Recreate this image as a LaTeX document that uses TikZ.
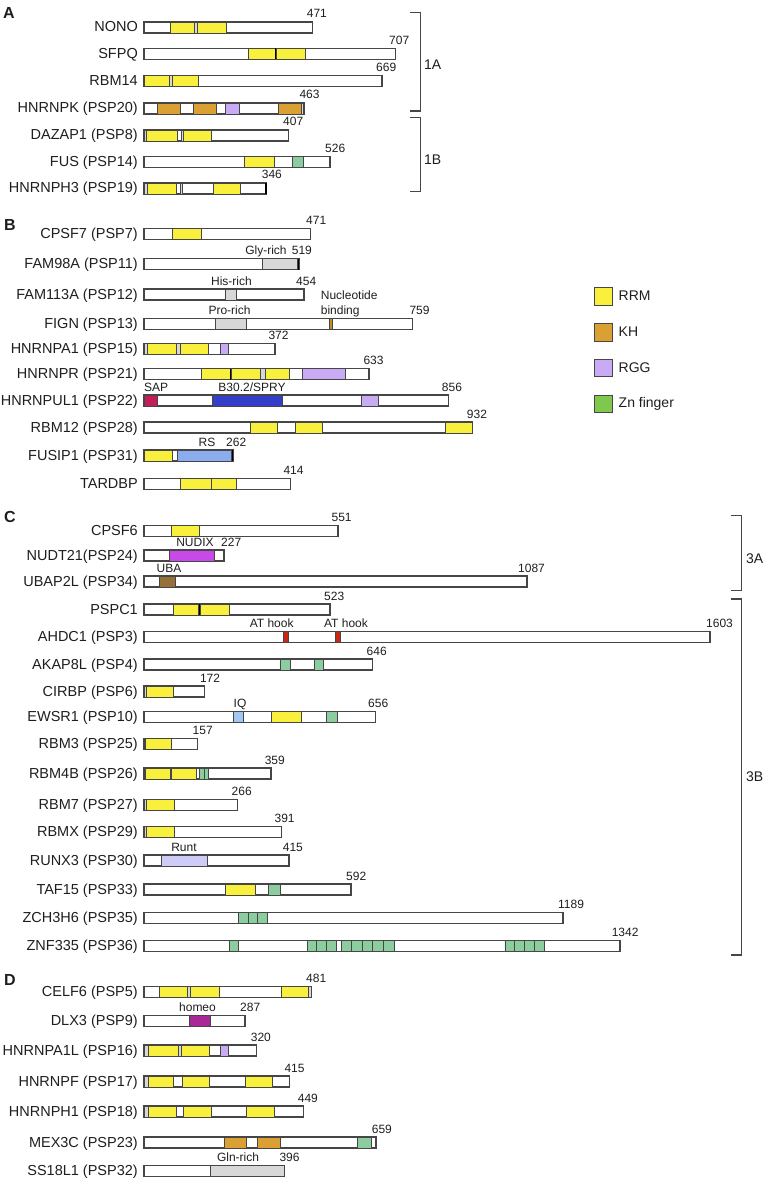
\documentclass[tikz,border=0pt]{standalone}
\usepackage{fontspec}
\setmainfont{Liberation Sans}
\usepackage{xcolor}
\usepackage{tikz}

\definecolor{outln}{RGB}{70,70,70}
\definecolor{txtc}{RGB}{30,30,30}
\definecolor{rrmc}{RGB}{248,240,60}
\definecolor{khc}{RGB}{218,160,52}
\definecolor{rggc}{RGB}{200,170,245}
\definecolor{znc}{RGB}{140,205,160}
\definecolor{znleg}{RGB}{128,200,76}
\definecolor{richc}{RGB}{216,216,216}
\definecolor{sapc}{RGB}{196,30,90}
\definecolor{spryc}{RGB}{52,62,200}
\definecolor{rsc}{RGB}{140,172,240}
\definecolor{nudixc}{RGB}{200,72,232}
\definecolor{ubac}{RGB}{150,112,56}
\definecolor{hookc}{RGB}{200,40,20}
\definecolor{iqc}{RGB}{160,200,242}
\definecolor{runtc}{RGB}{204,204,246}
\definecolor{homeoc}{RGB}{168,40,150}
\definecolor{nucc}{RGB}{200,140,30}

\begin{document}
\begin{tikzpicture}[x=1pt,y=-1pt,
  every node/.style={text=txtc,inner sep=0pt},
  protname/.style={font=\fontsize{14.5}{16}\selectfont,anchor=base east},
  aalen/.style={font=\fontsize{12}{14}\selectfont,anchor=base west},
  domlab/.style={font=\fontsize{12}{14}\selectfont,anchor=base},
  panel/.style={font=\fontsize{16}{18}\selectfont\bfseries},
  grp/.style={font=\fontsize{14}{16}\selectfont,anchor=west},
  protbar/.style={draw=outln,line width=1.2pt,fill=white},
  dom/.style={draw=outln,line width=0.8pt},
  rrm/.style={dom,fill=rrmc},
  kh/.style={dom,fill=khc},
  rgg/.style={dom,fill=rggc},
  znf/.style={dom,fill=znc},
  rich/.style={dom,fill=richc},
  sep/.style={dom,fill=richc},
  blk/.style={fill=black},
  sap/.style={dom,fill=sapc},
  spry/.style={dom,fill=spryc},
  rs/.style={dom,fill=rsc},
  nudix/.style={dom,fill=nudixc},
  uba/.style={dom,fill=ubac},
  hook/.style={dom,fill=hookc},
  iq/.style={dom,fill=iqc},
  runt/.style={dom,fill=runtc},
  homeo/.style={dom,fill=homeoc},
  nuc/.style={dom,fill=nucc},
  brk/.style={draw=outln,line width=1.2pt}]
\useasboundingbox (0,0) rectangle (764,1182);

% ---------------- A
\node[panel] (pa) at (9,13) {A};

\node[protname] (nono) at (138,32) {NONO};
\draw[protbar] (144,22) rectangle (312.7,33);
\draw[rrm] (170.3,22) rectangle (194.3,33);
\draw[sep] (194.3,22) rectangle (197.7,33);
\draw[rrm] (197.7,22) rectangle (226.7,33);
\node[aalen] (nono-n) at (306.7,18) {471};

\node[protname] (sfpq) at (138,58.5) {SFPQ};
\draw[protbar] (144,48.5) rectangle (395.7,59.5);
\draw[rrm] (248.3,48.5) rectangle (275,59.5);
\fill[blk] (275,48.5) rectangle (276.7,59.5);
\draw[rrm] (276.7,48.5) rectangle (305,59.5);
\node[aalen] (sfpq-n) at (389,44.5) {707};

\node[protname] (rbm14) at (138,85.5) {RBM14};
\draw[protbar] (144,75.5) rectangle (382,86.5);
\draw[rrm] (144,75.5) rectangle (169,86.5);
\draw[sep] (169,75.5) rectangle (172.3,86.5);
\draw[rrm] (172.3,75.5) rectangle (198.3,86.5);
\node[aalen] (rbm14-n) at (376,71.5) {669};

\node[protname] (hnrnpk) at (138,113) {HNRNPK (PSP20)};
\draw[protbar] (144,103) rectangle (304.3,114);
\draw[kh] (157.7,103) rectangle (180.7,114);
\draw[kh] (193.3,103) rectangle (216.7,114);
\draw[rgg] (225.7,103) rectangle (239.3,114);
\draw[kh] (278.3,103) rectangle (301,114);
\draw[sep] (301,103) rectangle (303,114);
\node[aalen] (hnrnpk-n) at (299.3,99) {463};

\node[protname] (dazap1) at (138,140) {DAZAP1 (PSP8)};
\draw[protbar] (144,130) rectangle (288.7,141);
\draw[sep] (144,130) rectangle (146.7,141);
\draw[rrm] (146.7,130) rectangle (177.7,141);
\draw[sep] (181,130) rectangle (183.3,141);
\draw[rrm] (183.3,130) rectangle (211,141);
\node[aalen] (dazap1-n) at (283,126) {407};

\node[protname] (fus) at (138,166.5) {FUS (PSP14)};
\draw[protbar] (144,156.5) rectangle (330,167.5);
\draw[rrm] (244.3,156.5) rectangle (274,167.5);
\draw[znf] (292,156.5) rectangle (303.3,167.5);
\node[aalen] (fus-n) at (325,152.5) {526};

\node[protname] (hnrnph3) at (138,193) {HNRNPH3 (PSP19)};
\draw[protbar] (144,183) rectangle (266.7,194);
\draw[sep] (144,183) rectangle (147,194);
\draw[rrm] (147,183) rectangle (176.7,194);
\draw[sep] (180,183) rectangle (182.5,194);
\draw[rrm] (213.3,183) rectangle (240.7,194);
\fill[blk] (265.2,183) rectangle (266.7,194);
\node[aalen] (hnrnph3-n) at (261.7,179) {346};

% groups 1A / 1B
\coordinate (g1at) at (420.5,12.5);
\coordinate (g1ab) at (420.5,111);
\coordinate (g1bt) at (420.5,117.5);
\coordinate (g1bb) at (420.5,191.5);
\draw[brk] ([xshift=-10.5pt]g1at) -- (g1at) -- (g1ab) -- ([xshift=-10.5pt]g1ab);
\draw[brk] ([xshift=-10.5pt]g1bt) -- (g1bt) -- (g1bb) -- ([xshift=-10.5pt]g1bb);
\node[grp] (g1a) at (424,65) {1A};
\node[grp] (g1b) at (424,160) {1B};

% ---------------- B
\node[panel] (pb) at (10,225) {B};

\node[protname] (cpsf7) at (138,238.5) {CPSF7 (PSP7)};
\draw[protbar] (144,228.5) rectangle (310.7,239.5);
\draw[rrm] (172.7,228.5) rectangle (201.7,239.5);
\node[aalen] (cpsf7-n) at (306,224.5) {471};

\node[protname] (fam98a) at (138,268.5) {FAM98A (PSP11)};
\draw[protbar] (144,258.5) rectangle (299,269.5);
\draw[rich] (262.7,258.5) rectangle (297.5,269.5);
\fill[blk] (297.5,258.5) rectangle (299,269.5);
\node[domlab] (glyrich) at (266,254.5) {Gly-rich};
\node[aalen] (fam98a-n) at (291.7,254.5) {519};

\node[protname] (fam113a) at (138,299) {FAM113A (PSP12)};
\draw[protbar] (144,289) rectangle (304,300);
\draw[rich] (225.3,289) rectangle (236.7,300);
\node[domlab] (hisrich) at (231.5,285) {His-rich};
\node[aalen] (fam113a-n) at (296,285) {454};

\node[protname] (fign) at (138,328.5) {FIGN (PSP13)};
\draw[protbar] (144,318.5) rectangle (412.7,329.5);
\draw[rich] (215,318.5) rectangle (246.7,329.5);
\draw[nuc] (329.3,318.5) rectangle (332.7,329.5);
\node[domlab] (prorich) at (229.5,314.5) {Pro-rich};
\node[aalen] (nucbind) at (320.7,299.5) {Nucleotide};
\node[aalen] (nucbind2) at (320.7,314.5) {binding};
\node[aalen] (fign-n) at (409.3,314.5) {759};

\node[protname] (hnrnpa1) at (138,353.5) {HNRNPA1 (PSP15)};
\draw[protbar] (144,343.5) rectangle (275,354.5);
\draw[sep] (144,343.5) rectangle (147.3,354.5);
\draw[rrm] (147.3,343.5) rectangle (176.7,354.5);
\draw[sep] (176.7,343.5) rectangle (180.7,354.5);
\draw[rrm] (180.7,343.5) rectangle (208.3,354.5);
\draw[rgg] (220,343.5) rectangle (228.3,354.5);
\node[aalen] (hnrnpa1-n) at (268.3,339.5) {372};

\node[protname] (hnrnpr) at (138,378.5) {HNRNPR (PSP21)};
\draw[protbar] (144,368.5) rectangle (369,379.5);
\draw[rrm] (201,368.5) rectangle (230,379.5);
\fill[blk] (230,368.5) rectangle (231.3,379.5);
\draw[rrm] (231.3,368.5) rectangle (260.7,379.5);
\draw[sep] (260.7,368.5) rectangle (265,379.5);
\draw[rrm] (265,368.5) rectangle (289.3,379.5);
\draw[rgg] (302.7,368.5) rectangle (345,379.5);
\node[aalen] (hnrnpr-n) at (363.3,364.5) {633};

\node[protname] (hnrnpul1) at (138,405) {HNRNPUL1 (PSP22)};
\draw[protbar] (144,395) rectangle (448.7,406);
\draw[sap] (144,395) rectangle (157.7,406);
\draw[spry] (212,395) rectangle (282.7,406);
\draw[rgg] (361.7,395) rectangle (378.3,406);
\node[aalen] (saplab) at (144,391) {SAP};
\node[domlab] (sprylab) at (252,391) {B30.2/SPRY};
\node[aalen] (hnrnpul1-n) at (441.7,391) {856};

\node[protname] (rbm12) at (138,432) {RBM12 (PSP28)};
\draw[protbar] (144,422) rectangle (472.7,433);
\draw[rrm] (250,422) rectangle (277.3,433);
\draw[rrm] (295.3,422) rectangle (322.7,433);
\draw[rrm] (445.7,422) rectangle (472.7,433);
\node[aalen] (rbm12-n) at (466.7,418) {932};

\node[protname] (fusip1) at (138,460) {FUSIP1 (PSP31)};
\draw[protbar] (144,450) rectangle (233.3,461);
\draw[rrm] (144,450) rectangle (172,461);
\draw[rs] (177.7,450) rectangle (231.8,461);
\fill[blk] (231.8,450) rectangle (233.3,461);
\node[domlab] (rslab) at (207,446) {RS};
\node[aalen] (fusip1-n) at (226,446) {262};

\node[protname] (tardbp) at (138,488.5) {TARDBP};
\draw[protbar] (144,478.5) rectangle (290.7,489.5);
\draw[rrm] (180,478.5) rectangle (211,489.5);
\draw[rrm] (211,478.5) rectangle (236.7,489.5);
\node[aalen] (tardbp-n) at (283.3,474.5) {414};

% legend
\draw[rrm,line width=1pt] (594.5,287.5) rectangle (612,305);
\node[grp] (lrrm) at (618.5,296) {RRM};
\draw[kh,line width=1pt] (594.5,323.5) rectangle (612,341);
\node[grp] (lkh) at (618.5,332) {KH};
\draw[rgg,line width=1pt] (594.5,359) rectangle (612,376.5);
\node[grp] (lrgg) at (618.5,368) {RGG};
\draw[dom,fill=znleg,line width=1pt] (594.5,395) rectangle (612,412.5);
\node[grp] (lzn) at (618.5,404) {Zn finger};

% ---------------- C
\node[panel] (pc) at (10,517) {C};

\node[protname] (cpsf6) at (138,535.5) {CPSF6};
\draw[protbar] (144,525.5) rectangle (338,536.5);
\draw[rrm] (171.5,525.5) rectangle (199.8,536.5);
\node[aalen] (cpsf6-n) at (331.4,521.5) {551};

\node[protname] (nudt21) at (138,560) {NUDT21(PSP24)};
\draw[protbar] (144,550) rectangle (224,561);
\draw[nudix] (169.6,550) rectangle (214.4,561);
\node[domlab] (nudixlab) at (195,546) {NUDIX};
\node[aalen] (nudt21-n) at (221,546) {227};

\node[protname] (ubap2l) at (138,586) {UBAP2L (PSP34)};
\draw[protbar] (144,576) rectangle (527,587);
\draw[uba] (159.8,576) rectangle (175.4,587);
\node[domlab] (ubalab) at (169,572) {UBA};
\node[aalen] (ubap2l-n) at (518,572) {1087};

\node[protname] (pspc1) at (138,614) {PSPC1};
\draw[protbar] (144,604) rectangle (330,615);
\draw[rrm] (173,604) rectangle (198.8,615);
\fill[blk] (198.8,604) rectangle (200.3,615);
\draw[rrm] (200.3,604) rectangle (229,615);
\node[aalen] (pspc1-n) at (324,600) {523};

\node[protname] (ahdc1) at (138,641.5) {AHDC1 (PSP3)};
\draw[protbar] (144,631.5) rectangle (710,642.5);
\draw[hook] (283.6,631.5) rectangle (288.5,642.5);
\draw[hook] (335.3,631.5) rectangle (340.2,642.5);
\node[domlab] (hook1) at (271.7,627.5) {AT hook};
\node[domlab] (hook2) at (346,627.5) {AT hook};
\node[aalen] (ahdc1-n) at (706,627.5) {1603};

\node[protname] (akap8l) at (138,669) {AKAP8L (PSP4)};
\draw[protbar] (144,659) rectangle (372.8,670);
\draw[znf] (280.7,659) rectangle (290.4,670);
\draw[znf] (314.3,659) rectangle (323.6,670);
\node[aalen] (akap8l-n) at (366.5,655) {646};

\node[protname] (cirbp) at (138,696) {CIRBP (PSP6)};
\draw[protbar] (144,686) rectangle (204.7,697);
\draw[sep] (144,686) rectangle (146.2,697);
\draw[rrm] (146.2,686) rectangle (173.5,697);
\node[aalen] (cirbp-n) at (199.8,682) {172};

\node[protname] (ewsr1) at (138,721.5) {EWSR1 (PSP10)};
\draw[protbar] (144,711.5) rectangle (375.2,722.5);
\draw[iq] (232.9,711.5) rectangle (243.7,722.5);
\draw[rrm] (271.4,711.5) rectangle (301.2,722.5);
\draw[znf] (326.5,711.5) rectangle (337.2,722.5);
\node[domlab] (iqlab) at (240,707.5) {IQ};
\node[aalen] (ewsr1-n) at (368,707.5) {656};

\node[protname] (rbm3) at (138,748.5) {RBM3 (PSP25)};
\draw[protbar] (144,738.5) rectangle (197.4,749.5);
\draw[sep] (144,738.5) rectangle (145.8,749.5);
\draw[rrm] (145.8,738.5) rectangle (171.5,749.5);
\node[aalen] (rbm3-n) at (192.5,734.5) {157};

\node[protname] (rbm4b) at (138,778) {RBM4B (PSP26)};
\draw[protbar] (144,768) rectangle (271,779);
\draw[sep] (144,768) rectangle (145.8,779);
\draw[rrm] (145.8,768) rectangle (170.6,779);
\fill[blk] (170.6,768) rectangle (171.6,779);
\draw[rrm] (171.6,768) rectangle (196.4,779);
\draw[znf] (199.8,768) rectangle (204,779) (204,768) rectangle (208.1,779);
\node[aalen] (rbm4b-n) at (264.6,764) {359};

\node[protname] (rbm7) at (138,809.5) {RBM7 (PSP27)};
\draw[protbar] (144,799.5) rectangle (237.3,810.5);
\draw[sep] (144,799.5) rectangle (146.2,810.5);
\draw[rrm] (146.2,799.5) rectangle (174.5,810.5);
\node[aalen] (rbm7-n) at (231.5,795.5) {266};

\node[protname] (rbmx) at (138,836.5) {RBMX (PSP29)};
\draw[protbar] (144,826.5) rectangle (281.2,837.5);
\draw[sep] (144,826.5) rectangle (146.2,837.5);
\draw[rrm] (146.2,826.5) rectangle (174.5,837.5);
\node[aalen] (rbmx-n) at (274.4,822.5) {391};

\node[protname] (runx3) at (138,865) {RUNX3 (PSP30)};
\draw[protbar] (144,855) rectangle (289,866);
\draw[runt] (161.8,855) rectangle (207.1,866);
\node[domlab] (runtlab) at (184,851) {Runt};
\node[aalen] (runx3-n) at (282.7,851) {415};

\node[protname] (taf15) at (138,894) {TAF15 (PSP33)};
\draw[protbar] (144,884) rectangle (350.9,895);
\draw[rrm] (225.1,884) rectangle (255.8,895);
\draw[znf] (268,884) rectangle (280.2,895);
\node[aalen] (taf15-n) at (346,880) {592};

\node[protname] (zch3h6) at (138,922.5) {ZCH3H6 (PSP35)};
\draw[protbar] (144,912.5) rectangle (563,923.5);
\draw[znf] (238.8,912.5) rectangle (248.2,923.5) (248.2,912.5) rectangle (257.6,923.5)
  (257.6,912.5) rectangle (267.1,923.5);
\node[aalen] (zch3h6-n) at (558,908.5) {1189};

\node[protname] (znf335) at (138,950.5) {ZNF335 (PSP36)};
\draw[protbar] (144,940.5) rectangle (620,951.5);
\draw[znf] (229,940.5) rectangle (238.8,951.5);
\draw[znf] (307,940.5) rectangle (316.8,951.5) (316.8,940.5) rectangle (326.6,951.5)
  (326.6,940.5) rectangle (336.4,951.5);
\draw[znf] (341,940.5) rectangle (351.6,951.5) (351.6,940.5) rectangle (362.2,951.5)
  (362.2,940.5) rectangle (372.8,951.5) (372.8,940.5) rectangle (383.4,951.5)
  (383.4,940.5) rectangle (394,951.5);
\draw[znf] (504.9,940.5) rectangle (514.8,951.5) (514.8,940.5) rectangle (524.7,951.5)
  (524.7,940.5) rectangle (534.6,951.5) (534.6,940.5) rectangle (544.4,951.5);
\node[aalen] (znf335-n) at (611.6,936.5) {1342};

% groups 3A / 3B
\coordinate (g3at) at (741.7,515.7);
\coordinate (g3ab) at (741.7,590.7);
\coordinate (g3bt) at (741.7,599);
\coordinate (g3bb) at (741.7,955);
\draw[brk] ([xshift=-11pt]g3at) -- (g3at) -- (g3ab) -- ([xshift=-11pt]g3ab);
\draw[brk] ([xshift=-11pt]g3bt) -- (g3bt) -- (g3bb) -- ([xshift=-11pt]g3bb);
\node[grp] (g3a) at (746,559) {3A};
\node[grp] (g3b) at (746,777) {3B};

% ---------------- D
\node[panel] (pd) at (10,980) {D};

\node[protname] (celf6) at (138,996.5) {CELF6 (PSP5)};
\draw[protbar] (144,986.5) rectangle (311.7,997.5);
\draw[rrm] (159,986.5) rectangle (187.3,997.5);
\draw[sep] (187.3,986.5) rectangle (190.7,997.5);
\draw[rrm] (190.7,986.5) rectangle (219,997.5);
\draw[rrm] (281.7,986.5) rectangle (308.3,997.5);
\draw[sep] (308.3,986.5) rectangle (311.7,997.5);
\node[aalen] (celf6-n) at (306,982.5) {481};

\node[protname] (dlx3) at (138,1025.5) {DLX3 (PSP9)};
\draw[protbar] (144,1015.5) rectangle (245,1026.5);
\draw[homeo] (189,1015.5) rectangle (210,1026.5);
\node[domlab] (homeolab) at (197.5,1011.5) {homeo};
\node[aalen] (dlx3-n) at (240,1011.5) {287};

\node[protname] (hnrnpa1l) at (138,1055) {HNRNPA1L (PSP16)};
\draw[protbar] (144,1045) rectangle (256.7,1056);
\draw[sep] (144,1045) rectangle (148,1056);
\draw[rrm] (148,1045) rectangle (178.3,1056);
\draw[sep] (178.3,1045) rectangle (181,1056);
\draw[rrm] (181,1045) rectangle (209,1056);
\draw[rgg] (220,1045) rectangle (228.3,1056);
\node[aalen] (hnrnpa1l-n) at (250.7,1041) {320};

\node[protname] (hnrnpf) at (138,1086) {HNRNPF (PSP17)};
\draw[protbar] (144,1076) rectangle (289.3,1087);
\draw[sep] (144,1076) rectangle (148,1087);
\draw[rrm] (148,1076) rectangle (173.3,1087);
\draw[rrm] (182.3,1076) rectangle (209.3,1087);
\draw[rrm] (245.7,1076) rectangle (272.7,1087);
\node[aalen] (hnrnpf-n) at (284.3,1072) {415};

\node[protname] (hnrnph1) at (138,1116) {HNRNPH1 (PSP18)};
\draw[protbar] (144,1106) rectangle (303.3,1117);
\draw[sep] (144,1106) rectangle (148,1117);
\draw[rrm] (148,1106) rectangle (176,1117);
\draw[rrm] (183.3,1106) rectangle (211,1117);
\draw[rrm] (246.7,1106) rectangle (274,1117);
\node[aalen] (hnrnph1-n) at (297.7,1102) {449};

\node[protname] (mex3c) at (138,1147) {MEX3C (PSP23)};
\draw[protbar] (144,1137) rectangle (376,1148);
\draw[kh] (224,1137) rectangle (246.7,1148);
\draw[kh] (257.7,1137) rectangle (280,1148);
\draw[znf] (357.3,1137) rectangle (371.7,1148);
\node[aalen] (mex3c-n) at (371.7,1133) {659};

\node[protname] (ss18l1) at (138,1175.5) {SS18L1 (PSP32)};
\draw[protbar] (144,1165.5) rectangle (284,1176.5);
\draw[rich] (210,1165.5) rectangle (284,1176.5);
\node[domlab] (glnrich) at (238,1161.5) {Gln-rich};
\node[aalen] (ss18l1-n) at (279.3,1161.5) {396};
\end{tikzpicture}
\end{document}
